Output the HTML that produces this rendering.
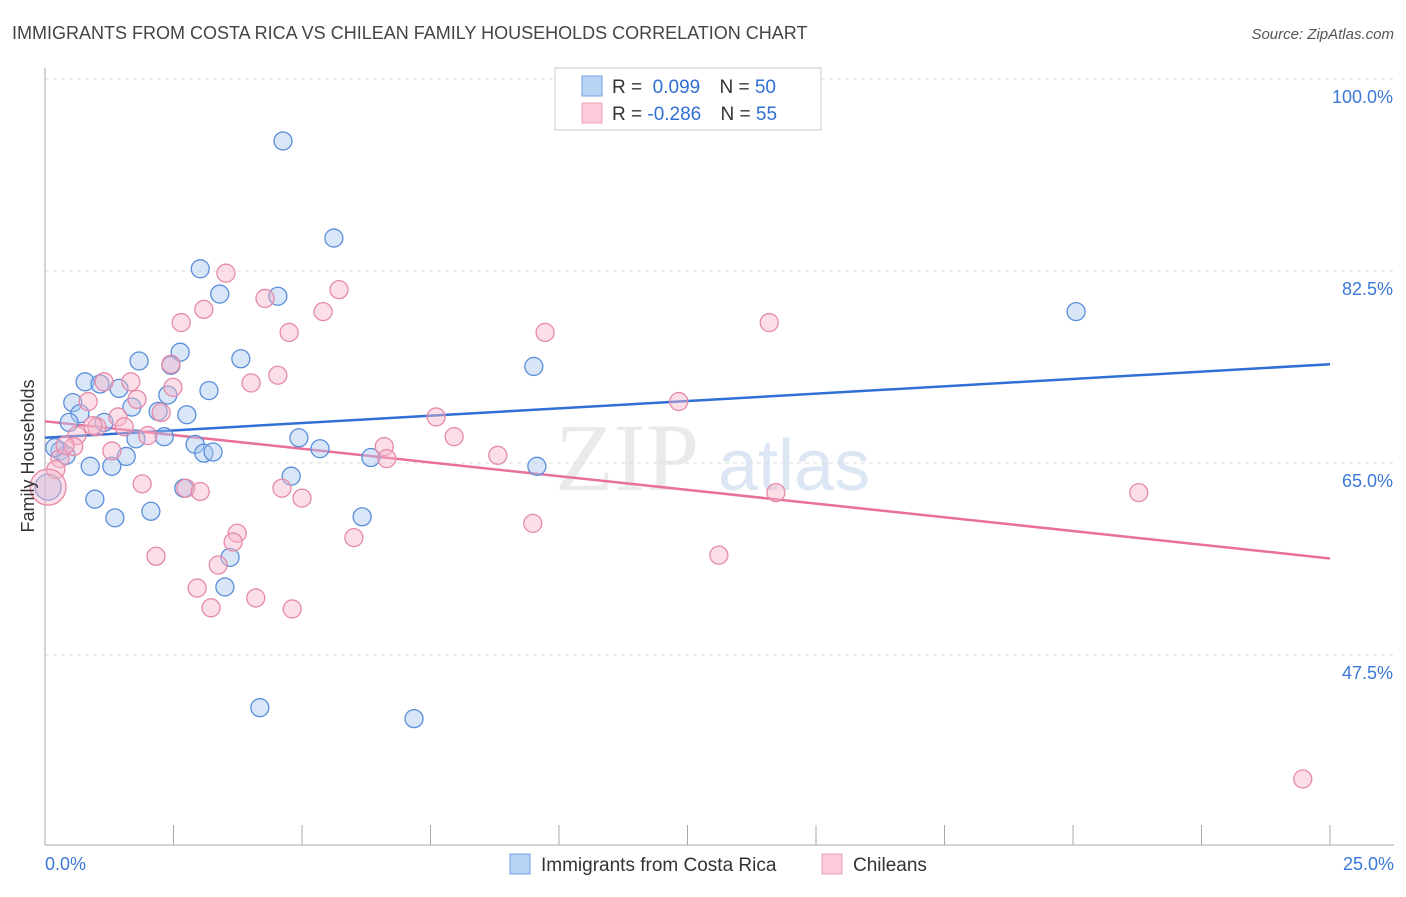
<!DOCTYPE html>
<html><head><meta charset="utf-8"><style>
body{margin:0;background:#fff;font-family:"Liberation Sans",sans-serif}
</style></head><body>
<svg id="chart" width="1406" height="892" xmlns="http://www.w3.org/2000/svg" font-family="Liberation Sans, sans-serif">
<text x="12" y="39" font-size="18" fill="#444">IMMIGRANTS FROM COSTA RICA VS CHILEAN FAMILY HOUSEHOLDS CORRELATION CHART</text>
<text x="1394" y="39" font-size="15" fill="#555" text-anchor="end" font-style="italic">Source: ZipAtlas.com</text>
<g><text x="555" y="490" font-size="96" fill="#ddd" font-family="Liberation Serif, serif" opacity="0.6">ZIP</text><text x="718" y="490" font-size="72" fill="#c5d7ee" opacity="0.6">atlas</text></g>
<g id="grid"></g><g id="axes"></g><g id="lines"></g><g id="pts"></g>
<text transform="translate(34,456) rotate(-90)" font-size="18" fill="#333" text-anchor="middle">Family Households</text>
<g>
<rect x="555" y="68" width="266" height="62" fill="#fff" stroke="#ccc"/>
<rect x="582" y="76" width="20" height="20" fill="#b9d3f5" stroke="#6f9fe0"/>
<rect x="582" y="103" width="20" height="20" fill="#fbcbda" stroke="#eaa0b8"/>
<text x="612" y="93" font-size="19" fill="#333">R = <tspan fill="#2f6fd6">&#160;0.099</tspan>   <tspan dx="14">N = </tspan><tspan fill="#2f6fd6">50</tspan></text>
<text x="612" y="120" font-size="19" fill="#333">R = <tspan fill="#2f6fd6">-0.286</tspan>   <tspan dx="14">N = </tspan><tspan fill="#2f6fd6">55</tspan></text>
</g>
<g>
<rect x="510" y="854" width="20" height="20" fill="#b9d3f5" stroke="#6f9fe0"/>
<text x="541" y="871" font-size="19" fill="#333">Immigrants from Costa Rica</text>
<rect x="822" y="854" width="20" height="20" fill="#fbcbda" stroke="#eaa0b8"/>
<text x="853" y="871" font-size="19" fill="#333">Chileans</text>
</g>
</svg>
<script>
const yTicks=[100,82.5,65,47.5];
const yTickLabels=["100.0%","82.5%","65.0%","47.5%"];
const xTickLabels=["0.0%","25.0%"];
const blueX=[4.63,5.62,3.02,3.40,4.53,20.06,2.63,1.83,3.81,2.45,9.51,0.78,1.07,1.44,3.19,2.39,0.54,1.69,0.68,2.20,2.76,0.47,1.15,1.77,2.32,2.92,4.94,5.35,0.29,0.41,3.09,3.27,1.58,6.34,0.88,1.30,9.57,4.79,2.70,0.97,2.06,1.36,6.17,3.60,3.50,4.18,7.18,0.19,0.06];
const blueY=[94.35,85.5,82.7,80.4,80.2,78.8,75.1,74.3,74.5,73.9,73.8,72.4,72.2,71.8,71.6,71.2,70.5,70.1,69.5,69.7,69.4,68.7,68.7,67.2,67.4,66.7,67.3,66.3,66.1,65.7,65.9,66.0,65.6,65.5,64.7,64.7,64.7,63.8,62.7,61.7,60.6,60.0,60.1,56.4,53.7,42.7,41.7,66.4,62.8];
const pinkX=[3.52,5.72,4.28,5.41,3.09,2.65,4.75,9.73,14.09,2.45,4.53,4.01,1.67,2.49,1.15,0.84,1.79,1.42,2.26,7.61,12.33,1.01,2.00,0.62,0.56,7.96,6.60,6.65,8.81,1.30,0.29,0.21,1.89,2.74,3.02,4.61,5.00,14.22,21.28,9.49,6.01,3.74,3.66,2.16,13.11,3.37,2.96,3.23,4.10,4.81,24.47,0.39,1.54,0.93,0.06];
const pinkY=[82.3,80.8,80.0,78.8,79.0,77.8,76.9,76.9,77.8,74.0,73.0,72.3,72.4,71.9,72.4,70.6,70.8,69.2,69.6,69.2,70.6,68.3,67.5,67.5,66.5,67.4,66.5,65.4,65.7,66.1,65.4,64.4,63.1,62.7,62.4,62.7,61.8,62.3,62.3,59.5,58.2,58.6,57.8,56.5,56.6,55.7,53.6,51.8,52.7,51.7,36.2,66.6,68.3,68.4,62.8];
const blueTrend=[67.3,74.0];
const pinkTrend=[68.8,56.3];
const NS="http://www.w3.org/2000/svg";
const X=v=>45+v/25*1285;
const Y=v=>79+(100-v)*192/17.5;
function mk(t,a,p){const e=document.createElementNS(NS,t);for(const k in a)e.setAttribute(k,a[k]);document.getElementById(p).appendChild(e);return e;}
yTicks.forEach((t,i)=>{
 const l=mk('line',{x1:45,x2:1394,y1:Y(t),y2:Y(t),stroke:'#ddd','stroke-dasharray':'4,4'},'grid');
 
 
 const tx=mk('text',{x:1393,y:Y(t)+24,'font-size':18,fill:'#3b78d8','text-anchor':'end'},'grid');
 tx.textContent=yTickLabels[i];
 
 
});
const ax=mk('line',{x1:45,x2:1394,y1:845,y2:845,stroke:'#aaa'},'axes');


const ay=mk('line',{x1:45,x2:45,y1:68,y2:845,stroke:'#aaa'},'axes');


for(let i=0;i<=10;i++){
 const t=mk('line',{x1:X(i*2.5),x2:X(i*2.5),y1:825,y2:845,stroke:'#aaa'},'axes');
 
 
}
[[0,'start',45],[25,'end',1394]].forEach((d,i)=>{
 const t=mk('text',{x:d[2],y:870,'font-size':18,fill:'#3b78d8','text-anchor':d[1]},'axes');
 t.textContent=xTickLabels[i];
 
 
});
function pts(xs,ys,fill,stroke,name){
 xs.forEach((x,i)=>{
  const big=(x<0.1);
  const c=mk('circle',{cx:X(x),cy:Y(ys[i]),r:big?(name==='pink-point'?18:13):9,fill:fill,'fill-opacity':0.45,stroke:stroke,'stroke-width':1.3},'pts');
  
  
 });
}
pts(blueX,blueY,'#a9c7f0','#5a8edb','blue-point');
pts(pinkX,pinkY,'#f6b6ca','#e58aa8','pink-point');
const bl=mk('line',{x1:X(0),x2:X(25),y1:Y(blueTrend[0]),y2:Y(blueTrend[1]),stroke:'#2f6fd6','stroke-width':2.5},'lines');


const pl=mk('line',{x1:X(0),x2:X(25),y1:Y(pinkTrend[0]),y2:Y(pinkTrend[1]),stroke:'#e8709a','stroke-width':2.5},'lines');


</script>
</body></html>
